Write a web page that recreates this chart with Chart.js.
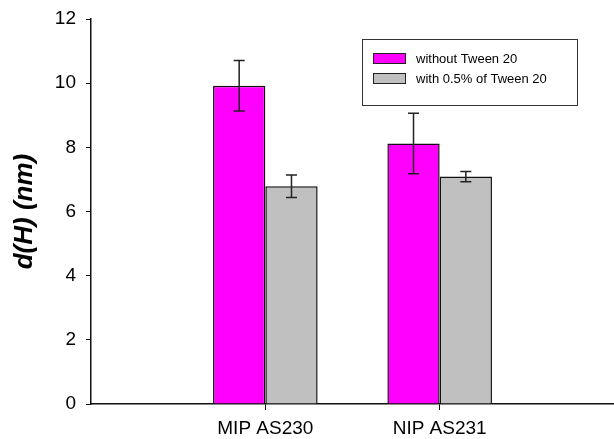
<!DOCTYPE html>
<html>
<head>
<meta charset="utf-8">
<script src="https://cdn.jsdelivr.net/npm/chart.js@4"></script>
<style>
  html, body { margin: 0; padding: 0; background: #fff; }
  #wrap { width: 614px; height: 439px; }
</style>
</head>
<body>
<div id="wrap"><canvas id="chart" width="614" height="439"></canvas></div>
<script>
// samples
const categories = ['MIP AS230', 'NIP AS231'];
const seriesNames = ['without Tween 20', 'with 0.5% of Tween 20'];
const withoutTween = [9.92, 8.12];
const withoutTweenErr = [0.79, 0.94];
const withTween = [6.79, 7.09];
const withTweenErr = [0.35, 0.16];
const yTicks = [0, 2, 4, 6, 8, 10, 12];

const FONT = "'Liberation Sans', Arial, sans-serif";

// bars sit at x = 1, 2 on a 0..3 linear axis
const toPoints = vals => vals.map((v, i) => ({ x: i + 1, y: v }));

// error bars from each dataset's err array
const errorBars = {
  id: 'errorBars',
  afterDatasetsDraw(chart) {
    const ctx = chart.ctx;
    const y = chart.scales.y;
    ctx.save();
    ctx.strokeStyle = '#222';
    ctx.lineWidth = 1.5;
    chart.data.datasets.forEach((ds, di) => {
      const meta = chart.getDatasetMeta(di);
      meta.data.forEach((bar, i) => {
        const v = ds.data[i].y, e = ds.err[i];
        const top = y.getPixelForValue(v + e);
        const bot = y.getPixelForValue(v - e);
        ctx.beginPath();
        ctx.moveTo(bar.x, top); ctx.lineTo(bar.x, bot);
        ctx.moveTo(bar.x - 5.5, top); ctx.lineTo(bar.x + 5.5, top);
        ctx.moveTo(bar.x - 5.5, bot); ctx.lineTo(bar.x + 5.5, bot);
        ctx.stroke();
      });
    });
    ctx.restore();
  }
};

// boxed legend in the upper right
const boxLegend = {
  id: 'boxLegend',
  afterDraw(chart) {
    const ctx = chart.ctx;
    ctx.save();
    ctx.strokeStyle = '#333';
    ctx.lineWidth = 1;
    ctx.strokeRect(362.5, 39.5, 215, 66);
    ctx.font = '13px ' + FONT;
    ctx.textBaseline = 'middle';
    chart.data.datasets.forEach((ds, i) => {
      const yy = 53 + i * 20;
      ctx.fillStyle = ds.backgroundColor;
      ctx.fillRect(373, yy, 33, 11);
      ctx.strokeStyle = '#222';
      ctx.strokeRect(373.5, yy + 0.5, 32, 10);
      ctx.fillStyle = '#000';
      ctx.fillText(ds.label, 416, yy + 6);
    });
    ctx.restore();
  }
};

new Chart(document.getElementById('chart'), {
  type: 'bar',
  data: {
    datasets: [
      {
        label: seriesNames[0],
        data: toPoints(withoutTween),
        err: withoutTweenErr,
        backgroundColor: '#FF00FF',
        borderColor: '#111',
        borderWidth: 1.5
      },
      {
        label: seriesNames[1],
        data: toPoints(withTween),
        err: withTweenErr,
        backgroundColor: '#C0C0C0',
        borderColor: '#111',
        borderWidth: 1.5
      }
    ]
  },
  options: {
    responsive: false,
    animation: false,
    categoryPercentage: 0.6,
    barPercentage: 1.0,
    layout: { padding: { top: 19, right: 0, left: 0, bottom: 0 } },
    plugins: {
      legend: { display: false },
      tooltip: { enabled: false }
    },
    scales: {
      x: {
        type: 'linear',
        min: 0,
        max: 3,
        offset: false,
        grid: { display: true, offset: false, drawOnChartArea: false, drawTicks: true, tickLength: 6, color: '#111', lineWidth: 1 },
        border: { display: true, color: '#111', width: 1.5 },
        afterBuildTicks: scale => { scale.ticks = categories.map((c, i) => ({ value: i + 1 })); },
        ticks: {
          color: '#000',
          font: { family: FONT, size: 19 },
          padding: 7,
          autoSkip: false,
          maxRotation: 0,
          callback: v => categories[v - 1]
        },
        afterFit: scale => { scale.height = 35; scale.paddingLeft = 0; scale.paddingRight = 0; }
      },
      y: {
        min: 0,
        max: 12,
        afterBuildTicks: scale => { scale.ticks = yTicks.map(v => ({ value: v })); },
        grid: { display: true, drawOnChartArea: false, drawTicks: true, tickLength: 5, color: '#111', lineWidth: 1 },
        border: { display: true, color: '#111', width: 1.5 },
        ticks: {
          color: '#000',
          font: { family: FONT, size: 19 },
          padding: 10
        },
        title: {
          display: true,
          text: 'd(H) (nm)',
          color: '#000',
          font: { family: FONT, size: 26, weight: 'bold', style: 'italic' },
          padding: { top: 9, bottom: 0 }
        },
        afterFit: scale => { scale.width = 91; scale.paddingTop = 0; scale.paddingBottom = 0; }
      }
    }
  },
  plugins: [errorBars, boxLegend]
});
</script>
</body>
</html>
